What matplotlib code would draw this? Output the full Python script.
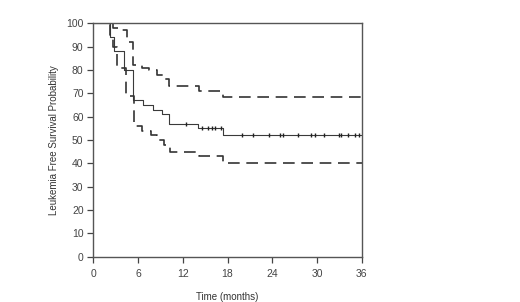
import matplotlib
matplotlib.use("Agg")
import matplotlib.pyplot as plt

# --- Kaplan-Meier estimate (step times in months, survival %) ---
km_t = [0, 2.3, 2.8, 3.2, 4.1, 5.3, 6.7, 8.0, 9.2, 10.1, 14.1, 17.4, 36]
km_p = [100, 94, 88, 88, 80, 67, 65, 63, 61, 57, 55, 52, 52]

# censored observations
cens_t = [12.4, 14.6, 15.4, 15.9, 16.3, 17.1, 19.9, 21.4, 23.6, 25.1, 25.4,
          27.4, 29.2, 29.8, 30.9, 32.9, 33.2, 34.2, 35.1, 35.7]
cens_p = [57, 55, 55, 55, 55, 55, 52, 52, 52, 52, 52,
          52, 52, 52, 52, 52, 52, 52, 52, 52]

# --- upper confidence band ---
up_t = [0, 2.6, 3.7, 4.5, 5.3, 6.6, 7.5, 8.6, 9.6, 10.2, 14.2, 17.4, 36]
up_p = [100, 98, 97, 92, 82, 81, 80, 78, 76, 73, 71, 68.5, 68.5]

# --- lower confidence band ---
lo_t = [0, 2.2, 2.6, 3.2, 4.4, 5.4, 6.6, 7.7, 8.6, 9.5, 10.3, 14.2, 17.4, 36]
lo_p = [100, 95, 90, 81, 69, 56, 54, 52, 50, 48, 45, 43, 40, 40]

fonts = ['Liberation Sans', 'DejaVu Sans']
plt.rcParams['font.family'] = fonts

fig = plt.figure(figsize=(5.2, 3.02), dpi=100)
ax = fig.add_axes([0.1794, 0.15, 0.5162, 0.7728])

ax.step(km_t, km_p, where='post', color='#3a3a3a', lw=0.8)
ax.plot(cens_t, cens_p, ls='none', marker='|', ms=2.5, mew=1.0, color='#222222')
ax.step(up_t, up_p, where='post', color='#333333', lw=1.2, dashes=(7, 4))
ax.step(lo_t, lo_p, where='post', color='#333333', lw=1.2, dashes=(7, 4))

ax.set_xlim(0, 36)
ax.set_ylim(0, 100)
ax.set_xticks(range(0, 37, 6))
ax.set_yticks(range(0, 101, 10))

for s in ax.spines.values():
    s.set_color('#555555')
    s.set_linewidth(1.0)

ax.tick_params(direction='out', length=4, width=0.9, color='#444444',
               labelsize=7.5, labelcolor='#444444')
ax.tick_params(axis='x', pad=5)
ax.tick_params(axis='y', pad=3)

ax.set_xlabel("Time (months)", fontsize=7, color='#333333', labelpad=9)
ax.set_ylabel("Leukemia Free Survival Probability", fontsize=7, color='#333333',
              labelpad=5)

fig.savefig("out.png", dpi=100)
